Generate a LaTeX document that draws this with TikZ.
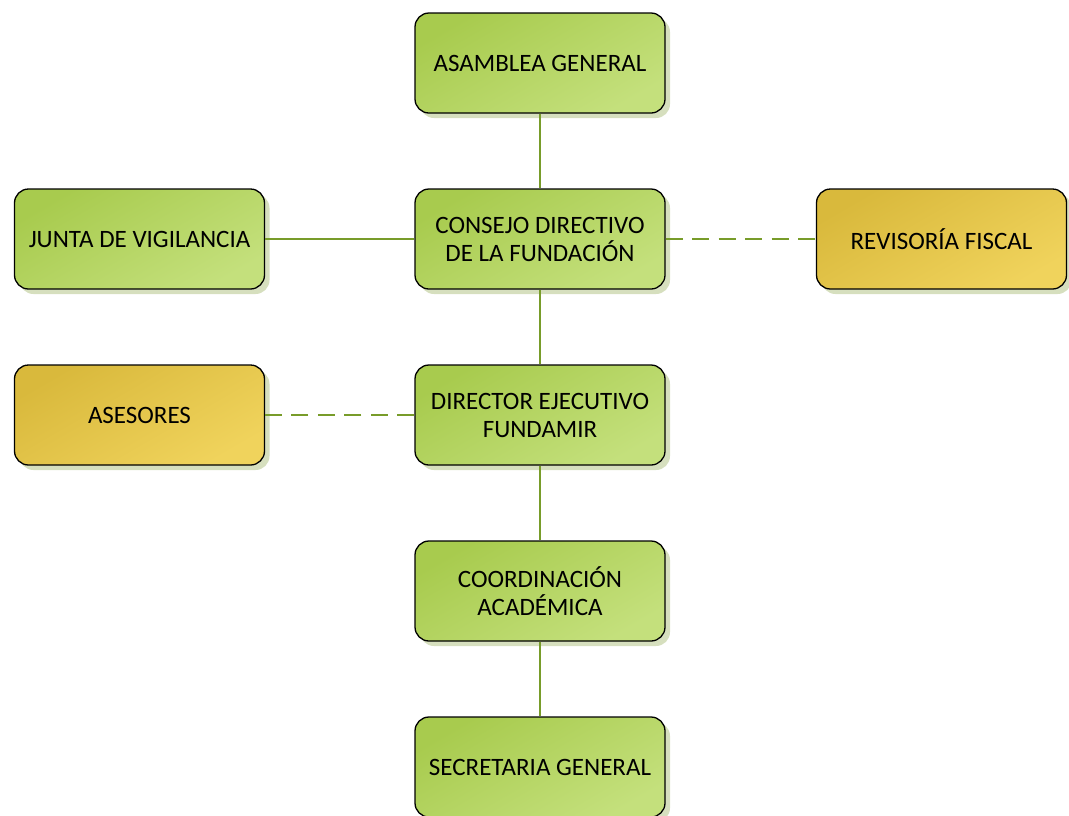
\documentclass[tikz,border=0pt]{standalone}
\usepackage{fontspec}
\setmainfont{Carlito}
\usetikzlibrary{shadows}
\definecolor{gA}{HTML}{A8CB4E}
\definecolor{gB}{HTML}{C4E07C}
\definecolor{yA}{HTML}{D9B93C}
\definecolor{yB}{HTML}{F0D35C}
\definecolor{lineg}{HTML}{789C2A}
\definecolor{shad}{HTML}{D6DFBE}
\tikzset{
  box/.style={draw=black, line width=1.3pt, rounded corners=14pt, minimum width=250pt, minimum height=100pt,
    align=center, font=\fontsize{25}{28}\selectfont, text=black,
    drop shadow={shadow xshift=5pt, shadow yshift=-5pt, fill=shad, opacity=1}},
  gbox/.style={box, top color=gA, bottom color=gB, shading angle=30},
  ybox/.style={box, top color=yA, bottom color=yB, shading angle=30},
  conn/.style={draw=lineg, line width=1.6pt},
  dconn/.style={conn, dash pattern=on 17pt off 9.5pt},
}
\begin{document}
\begin{tikzpicture}[x=1pt,y=-1pt]
\useasboundingbox (0,0) rectangle (1069,815);
\node[gbox] (ag) at (540,63) {ASAMBLEA GENERAL};
\node[gbox] (cd) at (540,239) {CONSEJO DIRECTIVO\\DE LA FUNDACIÓN};
\node[gbox] (jv) at (139.5,239) {JUNTA DE VIGILANCIA};
\node[ybox] (rf) at (941.5,239) {REVISORÍA FISCAL};
\node[ybox] (as) at (139.5,415) {ASESORES};
\node[gbox] (de) at (540,415) {DIRECTOR EJECUTIVO\\FUNDAMIR};
\node[gbox] (co) at (540,591) {COORDINACIÓN\\ACADÉMICA};
\node[gbox] (sg) at (540,767) {SECRETARIA GENERAL};
\draw[conn] (ag) -- (cd);
\draw[conn] (cd) -- (jv);
\draw[dconn] (cd) -- (rf);
\draw[conn] (cd) -- (de);
\draw[dconn] (de) -- (as);
\draw[conn] (de) -- (co);
\draw[conn] (co) -- (sg);
\end{tikzpicture}
\end{document}
